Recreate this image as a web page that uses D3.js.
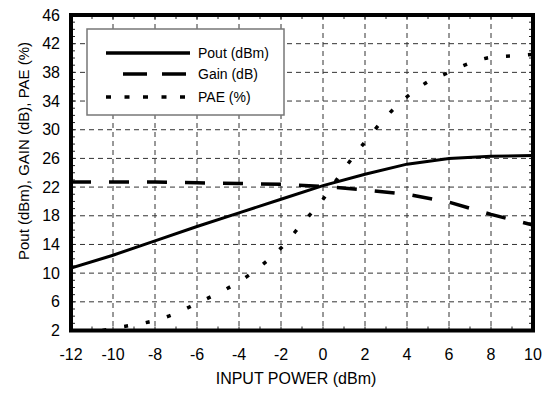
<!DOCTYPE html>
<html><head><meta charset="utf-8">
<script src="https://cdn.jsdelivr.net/npm/d3@7"></script>
<style>body{margin:0;background:#fff}svg{display:block;font-family:"Liberation Sans",Arial,sans-serif}</style>
</head><body><svg id="c" width="543" height="396"></svg>
<script>
// Data
const inputPower = [-12,-10,-8,-6,-4,-2,0,2,4,6,8,10];
const pout = [10.7,12.5,14.5,16.5,18.4,20.3,22.2,23.8,25.2,26.0,26.3,26.4];
const gain = [22.7,22.7,22.7,22.6,22.5,22.4,22.1,21.6,21.0,19.9,18.2,16.7];
const paeInput = [-10.5,-10,-9,-8,-7,-6,-5,-4,-3,-2,-1,0,1,2,3,4,5,6,7,8,9,10];
const pae = [2.0,2.3,2.8,3.4,4.4,5.8,7.2,8.8,10.9,13.5,16.9,20.3,24.5,28.3,31.8,34.6,36.7,38.0,39.3,40.1,40.3,40.5];
const xTicks = [-12,-10,-8,-6,-4,-2,0,2,4,6,8,10];
const yTicks = [2,6,10,14,18,22,26,30,34,38,42,46];
const legendLabels = ["Pout (dBm)","Gain (dB)","PAE (%)"];

const svg = d3.select("#c");
const L=71,R=533,T=15,B=330.5;
const x = d3.scaleLinear().domain([-12,10]).range([L,R]);
const y = d3.scaleLinear().domain([2,46]).range([B,T]);

// grid
const g = svg.append("g");
g.selectAll(".vg").data(xTicks.slice(1,-1)).enter().append("line")
 .attr("x1",d=>x(d)).attr("x2",d=>x(d)).attr("y1",T).attr("y2",B)
 .attr("stroke","#333").attr("stroke-width",1).attr("stroke-dasharray","5,4");
g.selectAll(".hg").data(yTicks.slice(1,-1)).enter().append("line")
 .attr("y1",d=>y(d)).attr("y2",d=>y(d)).attr("x1",L).attr("x2",R)
 .attr("stroke","#333").attr("stroke-width",1).attr("stroke-dasharray","5,4");

// minor ticks
const xm = d3.range(-11,10,1), ym = d3.range(3,46,1);
const tk = svg.append("g").attr("stroke","#222").attr("stroke-width",1);
xm.forEach(v=>{
  tk.append("line").attr("x1",x(v)).attr("x2",x(v)).attr("y1",B).attr("y2",B-4);
  tk.append("line").attr("x1",x(v)).attr("x2",x(v)).attr("y1",T).attr("y2",T+4);
});
ym.forEach(v=>{
  tk.append("line").attr("y1",y(v)).attr("y2",y(v)).attr("x1",L).attr("x2",L+4);
  tk.append("line").attr("y1",y(v)).attr("y2",y(v)).attr("x1",R).attr("x2",R-4);
});

// clip
svg.append("clipPath").attr("id","clip").append("rect").attr("x",L).attr("y",T).attr("width",R-L).attr("height",B-T);

const lineG = svg.append("g").attr("clip-path","url(#clip)");
const ln = d3.line().x(d=>x(d[0])).y(d=>y(d[1]));
lineG.append("path").datum(inputPower.map((v,i)=>[v,pout[i]]))
 .attr("d",ln).attr("fill","none").attr("stroke","#000").attr("stroke-width",3);
lineG.append("path").datum(inputPower.map((v,i)=>[v,gain[i]]))
 .attr("d",ln).attr("fill","none").attr("stroke","#000").attr("stroke-width",3.5).attr("stroke-dasharray","20,18");
lineG.append("path").datum(paeInput.map((v,i)=>[v,pae[i]]))
 .attr("d",d3.line().x(d=>x(d[0])).y(d=>y(d[1])).curve(d3.curveMonotoneX))
 .attr("fill","none").attr("stroke","#000").attr("stroke-width",3.5).attr("stroke-dasharray","4,18");

// frame
svg.append("rect").attr("x",L).attr("y",T).attr("width",R-L).attr("height",B-T)
 .attr("fill","none").attr("stroke","#000").attr("stroke-width",4);

// legend
const lg = svg.append("g");
lg.append("rect").attr("x",87).attr("y",29).attr("width",197).attr("height",86)
 .attr("fill","#fff").attr("stroke","#777").attr("stroke-width",1.5);
const ly=[53,74,97], dash=[null,"24,15","5,13.5"], lx1=[106,123,106];
legendLabels.forEach((t,i)=>{
  const l=lg.append("line").attr("x1",lx1[i]).attr("x2",190).attr("y1",ly[i]).attr("y2",ly[i])
   .attr("stroke","#000").attr("stroke-width",3.5);
  if(dash[i]) l.attr("stroke-dasharray",dash[i]);
  lg.append("text").attr("x",198).attr("y",ly[i]+5).attr("font-size",14).text(t);
});

// tick labels
svg.selectAll(".xl").data(xTicks).enter().append("text")
 .attr("x",d=>x(d)).attr("y",360).attr("text-anchor","middle").attr("font-size",16).text(d=>d);
svg.selectAll(".yl").data(yTicks).enter().append("text")
 .attr("x",60).attr("y",d=>y(d)+5.5).attr("text-anchor","end").attr("font-size",16).text(d=>d);

svg.append("text").attr("x",296).attr("y",384).attr("text-anchor","middle").attr("font-size",16).text("INPUT POWER (dBm)");
svg.append("text").attr("transform","translate(29,151) rotate(-90)").attr("text-anchor","middle").attr("font-size",15).text("Pout (dBm), GAIN (dB), PAE (%)");
</script></body></html>
